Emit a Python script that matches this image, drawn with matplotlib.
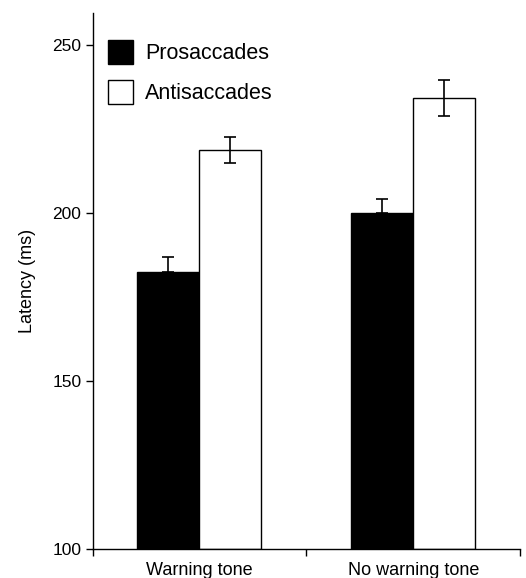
import matplotlib
matplotlib.use("Agg")
import matplotlib.pyplot as plt
import numpy as np
from matplotlib.patches import Patch

plt.rcParams["font.family"] = ["Liberation Sans", "DejaVu Sans"]

# data
conditions = ["Warning tone", "No warning tone"]
series = ["Prosaccades", "Antisaccades"]
pro_latency = [182.5, 200.1]
pro_err = [4.4, 4.0]
anti_latency = [218.8, 234.2]
anti_err = [3.9, 5.3]
y_ticks = [100, 150, 200, 250]

fig = plt.figure(figsize=(5.26, 5.78), dpi=100)
ax = fig.add_axes([0.176, 0.050, 0.813, 0.927])

centers = np.arange(len(conditions)) + 0.5
width = 0.29

ax.bar(centers - width / 2, np.array(pro_latency) - 100, width, bottom=100,
       color="black", edgecolor="black", linewidth=1.0)
ax.bar(centers + width / 2, np.array(anti_latency) - 100, width, bottom=100,
       color="white", edgecolor="black", linewidth=1.0)

# prosaccade bars are black, only the upper whisker shows
ax.errorbar(centers - width / 2, pro_latency, yerr=[[0, 0], pro_err], fmt="none",
            ecolor="black", elinewidth=1.2, capsize=4, capthick=1.2)
ax.errorbar(centers + width / 2, anti_latency, yerr=anti_err, fmt="none",
            ecolor="black", elinewidth=1.2, capsize=4, capthick=1.2)

ax.set_xlim(0, 2)
ax.set_ylim(100, 259.5)
ax.set_yticks(y_ticks)
ax.set_xticks([0, 1, 2])
ax.set_xticklabels([])
ax.set_xticks(centers, minor=True)
ax.set_xticklabels(conditions, minor=True, fontsize=13)
ax.tick_params(axis="x", which="minor", length=0, pad=9)
ax.tick_params(axis="x", which="major", length=5, width=1)
ax.tick_params(axis="y", length=5, width=1, labelsize=12.5, pad=3)
ax.set_ylabel("Latency (ms)", fontsize=13, labelpad=12)

for side in ["top", "right"]:
    ax.spines[side].set_visible(False)
for side in ["left", "bottom"]:
    ax.spines[side].set_linewidth(1.0)

handles = [Patch(facecolor="black", edgecolor="black", linewidth=1.0),
           Patch(facecolor="white", edgecolor="black", linewidth=1.0)]
ax.legend(handles, series, loc="upper left", frameon=False, fontsize=15.5,
          handlelength=1.2, handleheight=1.4, handletextpad=0.55,
          labelspacing=0.7, borderaxespad=0.0, bbox_to_anchor=(0.015, 0.967))

fig.savefig("out.png", dpi=100)
